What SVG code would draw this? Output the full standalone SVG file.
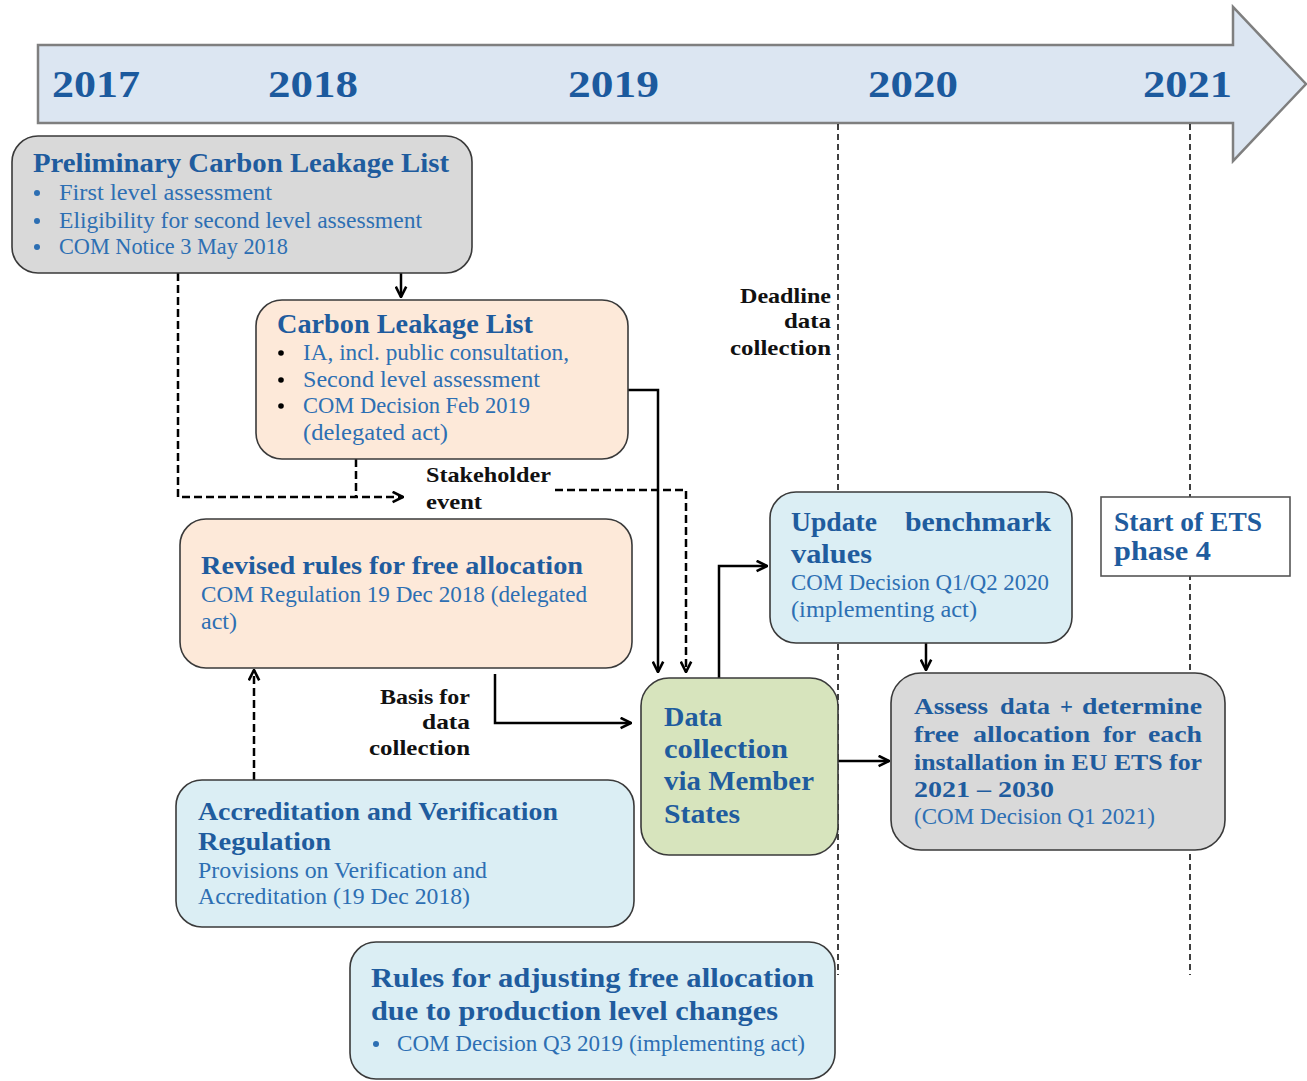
<svg xmlns="http://www.w3.org/2000/svg" width="1307" height="1081" viewBox="0 0 1307 1081">
<style>
.box{stroke:#3a3a3a;stroke-width:1.6}
.grey{fill:#d9d9d9}
.peach{fill:#fde9d9}
.blue{fill:#dbeef4}
.green{fill:#d7e4bd}
.t{font-family:"Liberation Serif","Times New Roman",serif;font-weight:bold;fill:#1f5c9e}
.b{font-family:"Liberation Serif","Times New Roman",serif;fill:#2d6fb3}
.k{font-family:"Liberation Serif","Times New Roman",serif;font-weight:bold;fill:#111}
.yr{font-family:"Liberation Serif","Times New Roman",serif;font-weight:bold;fill:#1c5a9e;font-size:37px}
.c{fill:none;stroke:#000;stroke-width:2.5}
.d{stroke-dasharray:8,4}
.v{fill:none;stroke:#000;stroke-width:1.5;stroke-dasharray:6,4}
</style>
<defs>
<marker id="ah" viewBox="0 0 10 10" refX="9" refY="5" markerWidth="13" markerHeight="13" markerUnits="userSpaceOnUse" orient="auto">
<path d="M1,1 L9,5 L1,9" fill="none" stroke="#000" stroke-width="2"/>
</marker>
</defs>
<rect width="1307" height="1081" fill="#fff"/>
<g id="timeline">
<path d="M38,45 H1233 V7 L1306,84 L1233,161 V123 H38 Z" fill="#dce6f2" stroke="#7f7f7f" stroke-width="2.5"/>
<text class="yr" x="52" y="97" textLength="88" lengthAdjust="spacingAndGlyphs">2017</text>
<text class="yr" x="268" y="97" textLength="90" lengthAdjust="spacingAndGlyphs">2018</text>
<text class="yr" x="568" y="97" textLength="91" lengthAdjust="spacingAndGlyphs">2019</text>
<text class="yr" x="868" y="97" textLength="90" lengthAdjust="spacingAndGlyphs">2020</text>
<text class="yr" x="1143" y="97" textLength="89" lengthAdjust="spacingAndGlyphs">2021</text>
</g>
<g id="year-lines">
<path class="v" d="M838,124 V975"/>
<path class="v" d="M1190,124 V975"/>
</g>
<g id="deadline-label">
<text class="k" font-size="22" x="740" y="303" textLength="91" lengthAdjust="spacingAndGlyphs">Deadline</text>
<text class="k" font-size="22" x="784" y="328" textLength="47" lengthAdjust="spacingAndGlyphs">data</text>
<text class="k" font-size="22" x="730" y="355" textLength="101" lengthAdjust="spacingAndGlyphs">collection</text>
</g>
<g id="connectors">
<path class="c" d="M401,273 V297" marker-end="url(#ah)"/>
<path class="c d" d="M178,273 V497 H403" marker-end="url(#ah)"/>
<path class="c d" d="M356,459 V497"/>
<path class="c d" d="M555,490 H686 V672" marker-end="url(#ah)"/>
<path class="c" d="M628,390 H658 V672" marker-end="url(#ah)"/>
<path class="c" d="M495,674 V723 H631" marker-end="url(#ah)"/>
<path class="c d" d="M254,780 V670" marker-end="url(#ah)"/>
<path class="c" d="M719,678 V566 H767" marker-end="url(#ah)"/>
<path class="c" d="M926,643 V670" marker-end="url(#ah)"/>
<path class="c" d="M838,761 H889" marker-end="url(#ah)"/>
</g>
<g id="preliminary">
<rect class="box grey" x="12" y="136" width="460" height="137" rx="26"/>
<text class="t" font-size="27" x="33" y="172" textLength="416" lengthAdjust="spacingAndGlyphs">Preliminary Carbon Leakage List</text>
<g class="b" font-size="23">
<circle cx="37" cy="193" r="3" fill="#2d6fb3"/>
<circle cx="37" cy="221" r="3" fill="#2d6fb3"/>
<circle cx="37" cy="247" r="3" fill="#2d6fb3"/>
<text x="59" y="200" textLength="213" lengthAdjust="spacingAndGlyphs">First level assessment</text>
<text x="59" y="228" textLength="363" lengthAdjust="spacingAndGlyphs">Eligibility for second level assessment</text>
<text x="59" y="254" textLength="229" lengthAdjust="spacingAndGlyphs">COM Notice 3 May 2018</text>
</g>
</g>
<g id="carbon-leakage-list">
<rect class="box peach" x="256" y="300" width="372" height="159" rx="26"/>
<text class="t" font-size="27" x="277" y="333" textLength="256" lengthAdjust="spacingAndGlyphs">Carbon Leakage List</text>
<circle cx="281" cy="353" r="2.8" fill="#000"/>
<circle cx="281" cy="380" r="2.8" fill="#000"/>
<circle cx="281" cy="406" r="2.8" fill="#000"/>
<g class="b" font-size="23">
<text x="303" y="360" textLength="266" lengthAdjust="spacingAndGlyphs">IA, incl. public consultation,</text>
<text x="303" y="387" textLength="237" lengthAdjust="spacingAndGlyphs">Second level assessment</text>
<text x="303" y="413" textLength="227" lengthAdjust="spacingAndGlyphs">COM Decision Feb 2019</text>
<text x="303" y="440" textLength="145" lengthAdjust="spacingAndGlyphs">(delegated act)</text>
</g>
</g>
<g id="stakeholder-label">
<text class="k" font-size="22" x="426" y="482" textLength="125" lengthAdjust="spacingAndGlyphs">Stakeholder</text>
<text class="k" font-size="22" x="426" y="509" textLength="56" lengthAdjust="spacingAndGlyphs">event</text>
</g>
<g id="revised-rules">
<rect class="box peach" x="180" y="519" width="452" height="149" rx="26"/>
<text class="t" font-size="25" x="201" y="574" textLength="382" lengthAdjust="spacingAndGlyphs">Revised rules for free allocation</text>
<text class="b" font-size="23" x="201" y="602" textLength="386" lengthAdjust="spacingAndGlyphs">COM Regulation 19 Dec 2018 (delegated</text>
<text class="b" font-size="23" x="201" y="629" textLength="36" lengthAdjust="spacingAndGlyphs">act)</text>
</g>
<g id="basis-label">
<text class="k" font-size="22" x="380" y="704" textLength="90" lengthAdjust="spacingAndGlyphs">Basis for</text>
<text class="k" font-size="22" x="422" y="729" textLength="48" lengthAdjust="spacingAndGlyphs">data</text>
<text class="k" font-size="22" x="369" y="755" textLength="101" lengthAdjust="spacingAndGlyphs">collection</text>
</g>
<g id="update-benchmark">
<rect class="box blue" x="770" y="492" width="302" height="151" rx="26"/>
<text class="t" font-size="27" x="791" y="531" textLength="86" lengthAdjust="spacingAndGlyphs">Update</text>
<text class="t" font-size="27" x="905" y="531" textLength="146" lengthAdjust="spacingAndGlyphs">benchmark</text>
<text class="t" font-size="27" x="791" y="563" textLength="81" lengthAdjust="spacingAndGlyphs">values</text>
<text class="b" font-size="23" x="791" y="590" textLength="258" lengthAdjust="spacingAndGlyphs">COM Decision Q1/Q2 2020</text>
<text class="b" font-size="23" x="791" y="617" textLength="186" lengthAdjust="spacingAndGlyphs">(implementing act)</text>
</g>
<g id="start-ets">
<rect x="1101" y="497" width="189" height="79" fill="#fff" stroke="#555" stroke-width="1.6"/>
<text class="t" font-size="27" x="1114" y="531" textLength="148" lengthAdjust="spacingAndGlyphs">Start of ETS</text>
<text class="t" font-size="27" x="1114" y="560" textLength="97" lengthAdjust="spacingAndGlyphs">phase 4</text>
</g>
<g id="data-collection">
<rect class="box green" x="641" y="678" width="197" height="177" rx="28"/>
<text class="t" font-size="28" x="664" y="726" textLength="58" lengthAdjust="spacingAndGlyphs">Data</text>
<text class="t" font-size="28" x="664" y="758" textLength="124" lengthAdjust="spacingAndGlyphs">collection</text>
<text class="t" font-size="28" x="664" y="790" textLength="150" lengthAdjust="spacingAndGlyphs">via Member</text>
<text class="t" font-size="28" x="664" y="823" textLength="76" lengthAdjust="spacingAndGlyphs">States</text>
</g>
<g id="assess-data">
<rect class="box grey" x="891" y="673" width="334" height="177" rx="30"/>
<g class="t" font-size="24">
<text x="914" y="714" textLength="74" lengthAdjust="spacingAndGlyphs">Assess</text>
<text x="1000" y="714" textLength="50" lengthAdjust="spacingAndGlyphs">data</text>
<text x="1060" y="714" textLength="13" lengthAdjust="spacingAndGlyphs">+</text>
<text x="1082" y="714" textLength="120" lengthAdjust="spacingAndGlyphs">determine</text>
<text x="914" y="742" textLength="45" lengthAdjust="spacingAndGlyphs">free</text>
<text x="973" y="742" textLength="117" lengthAdjust="spacingAndGlyphs">allocation</text>
<text x="1103" y="742" textLength="33" lengthAdjust="spacingAndGlyphs">for</text>
<text x="1148" y="742" textLength="54" lengthAdjust="spacingAndGlyphs">each</text>
<text x="914" y="770" textLength="288" lengthAdjust="spacingAndGlyphs">installation in EU ETS for</text>
<text x="914" y="797" textLength="140" lengthAdjust="spacingAndGlyphs">2021 – 2030</text>
</g>
<text class="b" font-size="23" x="914" y="824" textLength="241" lengthAdjust="spacingAndGlyphs">(COM Decision Q1 2021)</text>
</g>
<g id="accreditation">
<rect class="box blue" x="176" y="780" width="458" height="147" rx="26"/>
<text class="t" font-size="25" x="198" y="820" textLength="360" lengthAdjust="spacingAndGlyphs">Accreditation and Verification</text>
<text class="t" font-size="25" x="198" y="850" textLength="133" lengthAdjust="spacingAndGlyphs">Regulation</text>
<text class="b" font-size="23" x="198" y="878" textLength="289" lengthAdjust="spacingAndGlyphs">Provisions on Verification and</text>
<text class="b" font-size="23" x="198" y="904" textLength="272" lengthAdjust="spacingAndGlyphs">Accreditation (19 Dec 2018)</text>
</g>
<g id="adjusting-rules">
<rect class="box blue" x="350" y="942" width="485" height="137" rx="26"/>
<text class="t" font-size="28" x="371" y="987" textLength="443" lengthAdjust="spacingAndGlyphs">Rules for adjusting free allocation</text>
<text class="t" font-size="28" x="371" y="1020" textLength="407" lengthAdjust="spacingAndGlyphs">due to production level changes</text>
<circle cx="376" cy="1044" r="3" fill="#2d6fb3"/>
<text class="b" font-size="23" x="397" y="1051" textLength="408" lengthAdjust="spacingAndGlyphs">COM Decision Q3 2019 (implementing act)</text>
</g>
</svg>
